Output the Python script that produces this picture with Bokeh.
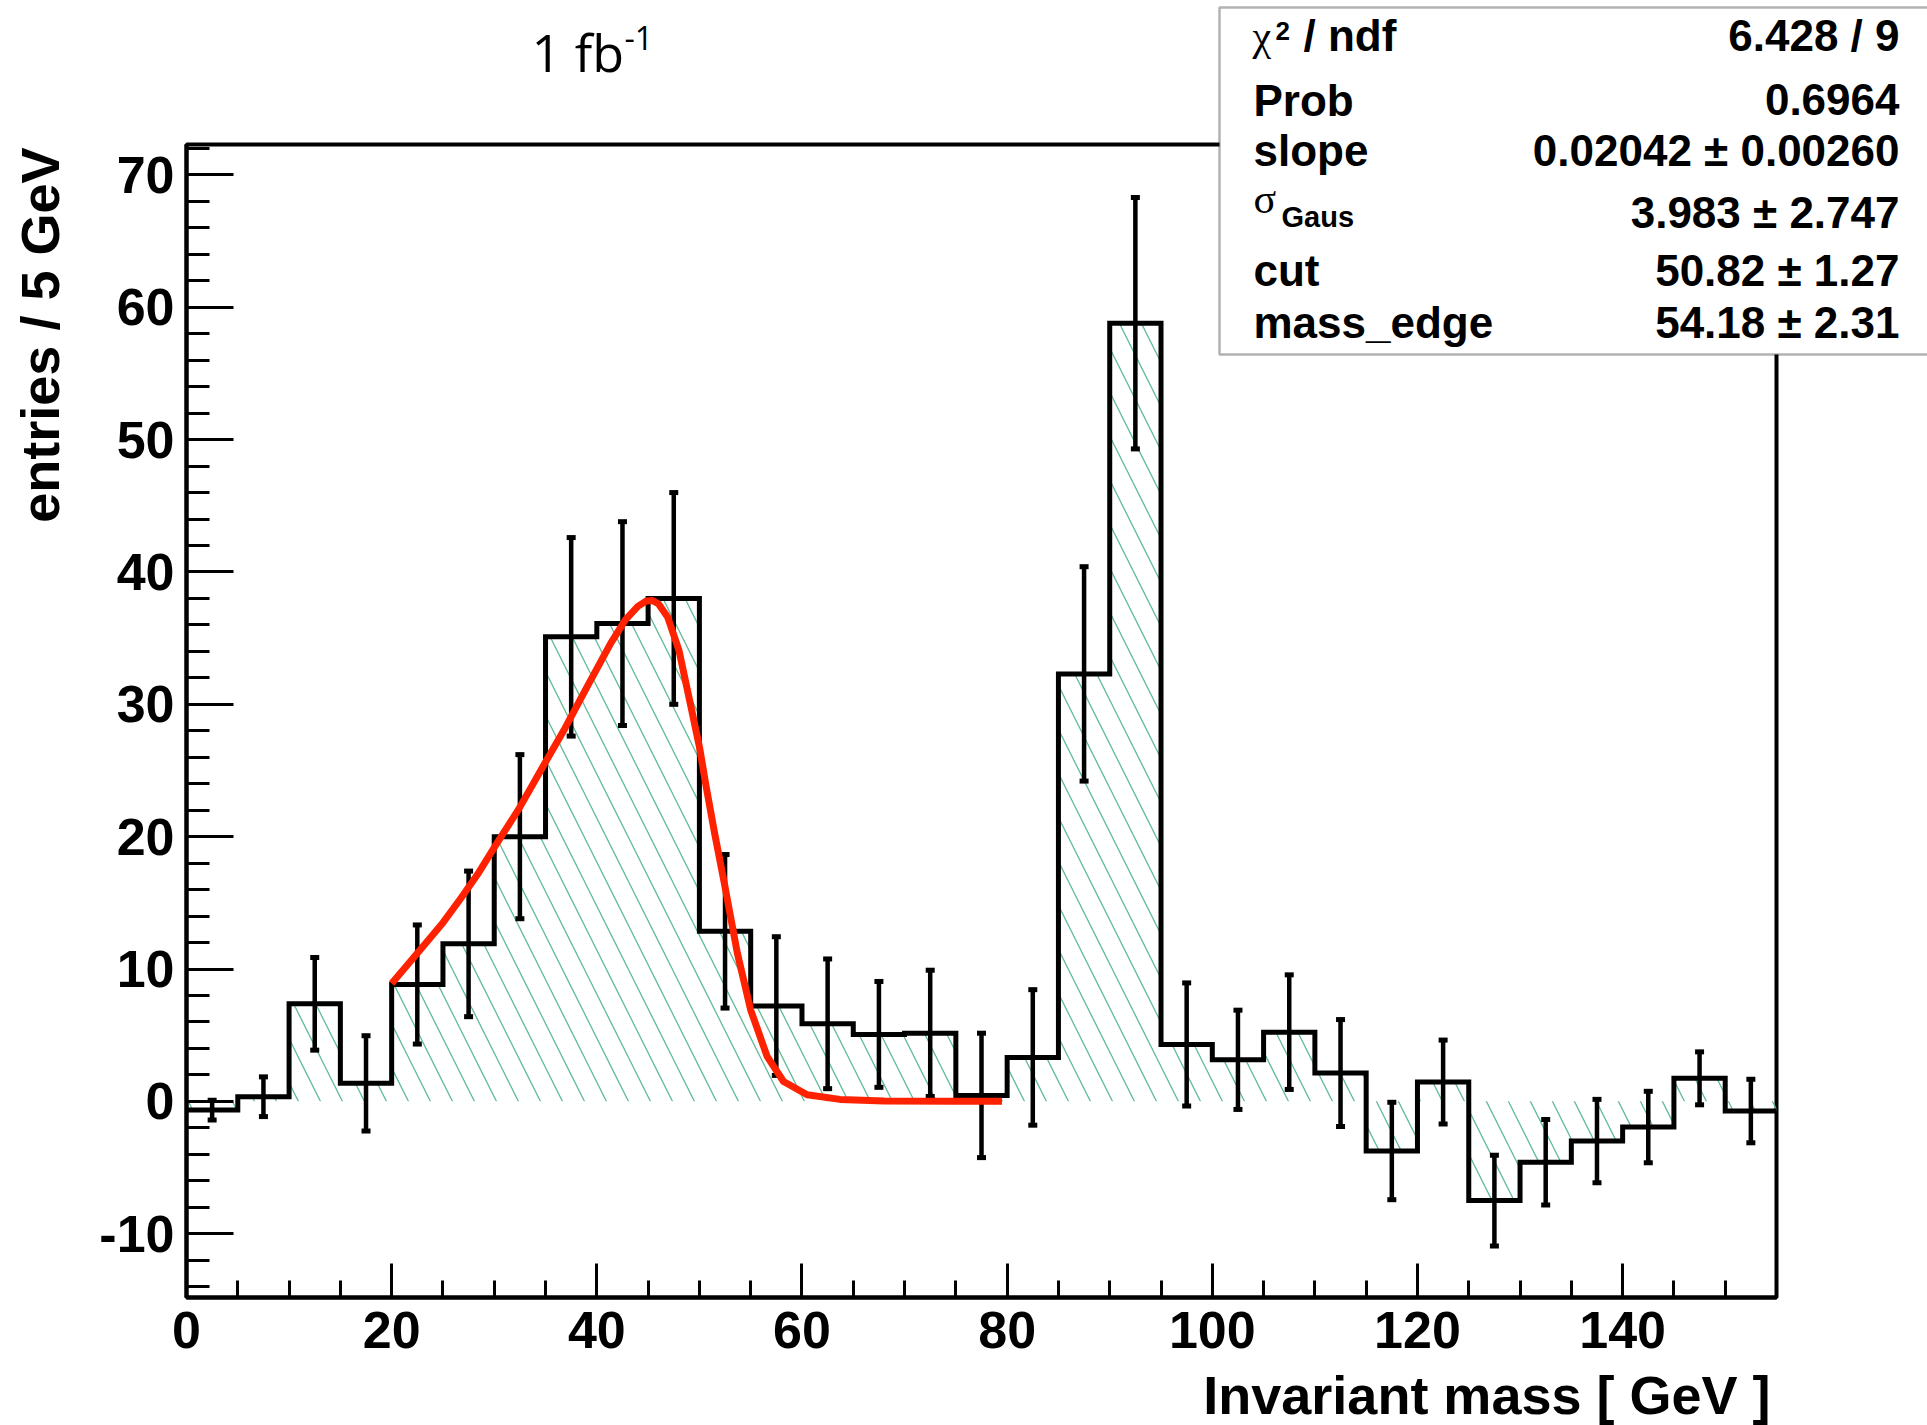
import math
from bokeh.plotting import figure
from bokeh.models import Range1d, SingleIntervalTicker, Label, BoxAnnotation
from bokeh.embed import file_html
from bokeh.resources import INLINE

# ---------------- data ----------------
bin_width = 5
x_low = 0
x_high = 155
values = [-0.66, 0.35, 7.37, 1.36, 8.83, 11.9, 20.0, 35.1, 36.1, 38.0,
          12.85, 7.2, 5.86, 5.06, 5.14, 0.45, 3.32, 32.3, 58.8, 4.3,
          3.14, 5.23, 2.14, -3.75, 1.46, -7.5, -4.6, -3.0, -1.94, 1.74, -0.73]
errors = [0.75, 1.5, 3.5, 3.6, 4.5, 5.5, 6.2, 7.5, 7.7, 8.0,
          5.8, 5.24, 4.9, 4.0, 4.77, 4.7, 5.12, 8.1, 9.5, 4.65,
          3.75, 4.33, 4.04, 3.68, 3.17, 3.43, 3.23, 3.15, 2.7, 2.0, 2.4]

fit_x = [20.0, 22.5, 25.0, 26.8, 28.5, 30.1, 32.4, 34.6, 36.9, 39.1, 41.35, 42.8,
         44.0, 44.8, 45.4, 46.0, 46.9, 48.0, 49.1, 50.0, 50.7, 51.5, 52.4, 53.7,
         55.0, 56.6, 58.2, 60.5, 63.7, 68.0, 75.0, 79.5]
fit_y = [8.9, 11.2, 13.5, 15.4, 17.3, 19.3, 22.1, 25.1, 28.2, 31.4, 34.6, 36.4,
         37.4, 37.8, 37.85, 37.6, 36.6, 34.1, 30.1, 26.8, 23.6, 20.2, 16.6, 11.2,
         6.9, 3.4, 1.5, 0.5, 0.15, 0.03, 0.0, 0.0]

y_low = -14.82
y_high = 72.3

x_major_step = 20
y_major_step = 10

stats_names = ["Prob", "slope", "cut", "mass_edge"]
stats_values = ["6.428 / 9", "0.6964", "0.02042 \u00b1 0.00260", "3.983 \u00b1 2.747",
                "50.82 \u00b1 1.27", "54.18 \u00b1 2.31"]

# ---------------- derived ----------------
edges = [x_low + i * bin_width for i in range(len(values) + 1)]
centers = [e + bin_width / 2 for e in edges[:-1]]
step_y = values + [values[-1]]
area_x, area_y = [], []
for i, v in enumerate(values):
    area_x += [edges[i], edges[i + 1]]
    area_y += [v, v]
lo = [v - e for v, e in zip(values, errors)]
hi = [v + e for v, e in zip(values, errors)]

# ---------------- layout: frame covers the whole canvas -----------------
W, H = 1927, 1425
FL, FR, FT, FB = 186, 1776, 144, 1297   # ROOT frame edges on the canvas
xpx = (FR - FL) / (x_high - x_low)
ypx = (FB - FT) / (y_high - y_low)
xr = Range1d(x_low - FL / xpx, x_high + (W - FR) / xpx)
yr = Range1d(y_low - (H - FB) / ypx, y_high + FT / ypx)

p = figure(width=W, height=H, output_backend="svg", toolbar_location=None,
           x_range=xr, y_range=yr,
           min_border_left=0, min_border_right=0, min_border_top=0,
           min_border_bottom=0)
p.background_fill_color = "white"
p.border_fill_color = "white"
p.outline_line_color = None
p.xgrid.grid_line_color = None
p.ygrid.grid_line_color = None

FONT = "Liberation Sans"

for ax, tin, tmin in ((p.xaxis, 34, 17), (p.yaxis, 47, 23)):
    ax.axis_line_width = 4
    ax.axis_line_color = "black"
    ax.major_tick_in = tin
    ax.major_tick_out = 0
    ax.minor_tick_in = tmin
    ax.minor_tick_out = 0
    ax.major_tick_line_width = 3
    ax.minor_tick_line_width = 3
    ax.major_tick_line_color = "black"
    ax.minor_tick_line_color = "black"
    ax.major_label_text_font = FONT
    ax.major_label_text_font_style = "bold"
    ax.major_label_text_font_size = "52px"
    ax.major_label_text_color = "black"

p.xaxis.ticker = SingleIntervalTicker(interval=x_major_step, num_minor_ticks=4)
p.yaxis.ticker = SingleIntervalTicker(interval=y_major_step, num_minor_ticks=5)
p.xaxis.fixed_location = y_low
p.yaxis.fixed_location = x_low
p.xaxis.bounds = (x_low, x_high)
p.yaxis.bounds = (y_low, y_high)
p.xaxis.major_label_standoff = 14
p.yaxis.major_label_standoff = 12
p.yaxis.major_label_overrides = {-10: "-10"}

# ROOT frame
p.quad(left=[x_low], right=[x_high], bottom=[y_low], top=[y_high],
       fill_color=None, line_color="black", line_width=4)

# hatched area between histogram and zero
p.varea(x=area_x, y1=area_y, y2=[0] * len(area_y), fill_alpha=0,
        hatch_pattern="\\", hatch_color="#5fb896", hatch_scale=44,
        hatch_weight=1.3)

# histogram outline
p.step(x=edges, y=step_y, mode="after", line_color="black", line_width=5,
       line_join="miter")

# error bars
p.segment(x0=centers, y0=lo, x1=centers, y1=hi, line_color="black", line_width=4.5)
p.rect(x=centers + centers, y=lo + hi, width=9, height=5,
       width_units="screen", height_units="screen",
       fill_color="black", line_color=None)

# fit function
p.line(fit_x, fit_y, line_color="#ff2200", line_width=7, line_join="round")

# vertical centre of the text box relative to the baseline (fraction of size)
MID = {"Liberation Sans": 0.3465, "Liberation Serif": 0.3375, "Open Sans": 0.44}


def lab(text, cx, base, size, font=FONT, style="bold", align="left", vertical=False):
    k = MID[font] * size
    if vertical:
        ax_, ay_, ang = cx - k, base, math.pi / 2
    else:
        ax_, ay_, ang = cx, base - k, 0.0
    p.add_layout(Label(x=ax_, y=H - ay_, x_units="screen", y_units="screen",
                       text=text, text_font=font, text_font_style=style,
                       text_font_size=f"{size}px", text_align=align,
                       text_baseline="middle", text_color="black",
                       angle=ang))


# axis titles
lab("entries / 5 GeV", 58, 147, 54, align="right", vertical=True)
lab("Invariant mass [ GeV ]", 1770, 1413, 54, align="right")

# luminosity title
lab("1 fb", 531, 74, 52, font="Open Sans", style="normal")
lab("-1", 624, 52, 32, font="Open Sans", style="normal")

# stats box
p.add_layout(BoxAnnotation(left=1219, right=W + 10, top=H - 7, bottom=H - 354,
                           left_units="screen", right_units="screen",
                           top_units="screen", bottom_units="screen",
                           fill_color="white", fill_alpha=1.0,
                           line_color="black", line_width=2.5))

lab("\u03c7", 1252, 50, 42, font="Liberation Serif", style="normal")
lab("2", 1275, 40, 26)
lab("/ ndf", 1303, 50, 44)
lab(stats_names[0], 1253, 115, 44)
lab(stats_names[1], 1253, 165, 44)
lab("\u03c3", 1253, 213, 42, font="Liberation Serif", style="normal")
lab("Gaus", 1281, 227, 29)
lab(stats_names[2], 1253, 285, 44)
lab(stats_names[3], 1253, 337, 44)

for txt, base in zip(stats_values, [50, 114, 165, 227, 285, 337]):
    lab(txt, 1899, base, 44, align="right")

open("out.html", "w").write(file_html(p, INLINE))
